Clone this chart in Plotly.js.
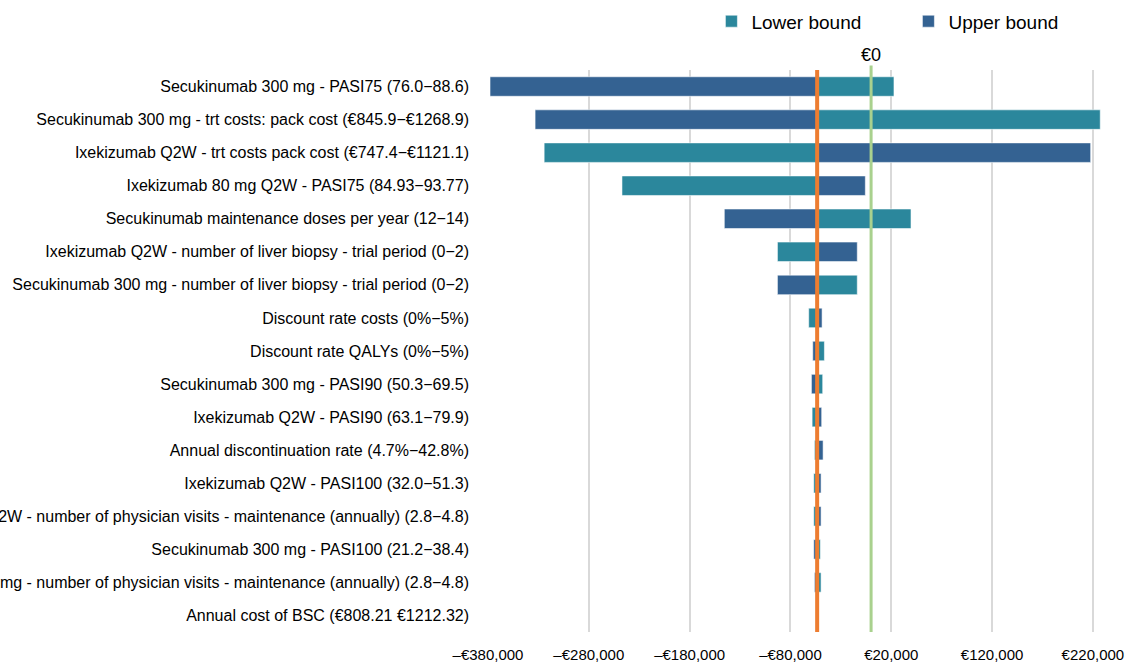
<!DOCTYPE html>
<html>
<head>
<meta charset="utf-8">
<script src="https://cdn.plot.ly/plotly-3.0.1.min.js"></script>
<style>
  html, body { margin: 0; padding: 0; background: #ffffff; }
  #chart { width: 1133px; height: 664px; }
</style>
</head>
<body>
<div id="chart"></div>
<script>
// ---- Data ----
const categories = [
  "Secukinumab 300 mg - PASI75 (76.0\u221288.6)",
  "Secukinumab 300 mg - trt costs: pack cost (\u20ac845.9\u2212\u20ac1268.9)",
  "Ixekizumab Q2W - trt costs pack cost (\u20ac747.4\u2212\u20ac1121.1)",
  "Ixekizumab 80 mg Q2W - PASI75 (84.93\u221293.77)",
  "Secukinumab maintenance doses per year (12\u221214)",
  "Ixekizumab Q2W - number of liver biopsy - trial period (0\u22122)",
  "Secukinumab 300 mg - number of liver biopsy - trial period (0\u22122)",
  "Discount rate costs (0%\u22125%)",
  "Discount rate QALYs (0%\u22125%)",
  "Secukinumab 300 mg - PASI90 (50.3\u221269.5)",
  "Ixekizumab Q2W - PASI90 (63.1\u221279.9)",
  "Annual discontinuation rate (4.7%\u221242.8%)",
  "Ixekizumab Q2W - PASI100 (32.0\u221251.3)",
  "Ixekizumab Q2W - number of physician visits - maintenance (annually) (2.8\u22124.8)",
  "Secukinumab 300 mg - PASI100 (21.2\u221238.4)",
  "Secukinumab 300 mg - number of physician visits - maintenance (annually) (2.8\u22124.8)",
  "Annual cost of BSC (\u20ac808.21 \u20ac1212.32)"
];

// Base-case result (where the bars meet, orange line)
const baseCase = -53500;

// Result at the lower bound of each parameter
const lowerBound = [
  22700, 227300, -324300, -247100, 39600, -92900, -13700,
  -61900, -46300, -48000, -58500, -56200, -56900, -56900,
  -50300, -49600, -54500
];

// Result at the upper bound of each parameter
const upperBound = [
  -378000, -333300, 217800, -5700, -145600, -13700, -92900,
  -48600, -57900, -59200, -49000, -47600, -49600, -49600,
  -56900, -56200, -52500
];

// Reference line (€0)
const zeroLine = 0;

// Axis ticks
const tickValues = [-380000, -280000, -180000, -80000, 20000, 120000, 220000];
const tickLabels = ["\u2013\u20ac380,000", "\u2013\u20ac280,000", "\u2013\u20ac180,000", "\u2013\u20ac80,000", "\u20ac20,000", "\u20ac120,000", "\u20ac220,000"];

// ---- Chart ----
const FONT = "Liberation Sans, Arial, Helvetica, sans-serif";
const tealColor = "#2b879c";
const navyColor = "#346292";

const traces = [
  {
    type: "bar",
    orientation: "h",
    name: "Lower bound",
    y: categories,
    x: lowerBound.map(v => v - baseCase),
    base: baseCase,
    width: 0.59,
    marker: { color: tealColor, line: { color: "rgba(255,255,255,0.55)", width: 1 } },
    hoverinfo: "skip"
  },
  {
    type: "bar",
    orientation: "h",
    name: "Upper bound",
    y: categories,
    x: upperBound.map(v => v - baseCase),
    base: baseCase,
    width: 0.59,
    marker: { color: navyColor, line: { color: "rgba(255,255,255,0.55)", width: 1 } },
    hoverinfo: "skip"
  }
];

const layout = {
  width: 1133,
  height: 664,
  margin: { l: 488, r: 25, t: 70, b: 32 },
  paper_bgcolor: "#ffffff",
  plot_bgcolor: "#ffffff",
  font: { family: FONT, size: 16, color: "#000000" },
  barmode: "overlay",
  showlegend: true,
  legend: {
    orientation: "h",
    xref: "container",
    yref: "container",
    x: 0.6279,
    y: 0.9965,
    xanchor: "left",
    yanchor: "top",
    font: { family: FONT, size: 19, color: "#000000" },
    traceorder: "normal",
    entrywidth: 152,
    entrywidthmode: "pixels",
    bgcolor: "rgba(0,0,0,0)"
  },
  xaxis: {
    range: [-380000, 235000],
    tickvals: tickValues,
    ticktext: tickLabels,
    showgrid: true,
    gridcolor: "#d9d9d9",
    gridwidth: 2,
    zeroline: false,
    showline: false,
    ticks: "",
    ticklabelstandoff: 12,
    tickfont: { family: FONT, size: 15, color: "#000000" },
    fixedrange: true
  },
  yaxis: {
    type: "category",
    autorange: "reversed",
    showgrid: false,
    zeroline: false,
    showline: false,
    ticks: "",
    ticklabelstandoff: 18,
    tickfont: { family: FONT, size: 16, color: "#000000" },
    fixedrange: true
  },
  shapes: [
    {
      type: "line", layer: "above",
      xref: "x", yref: "paper",
      x0: baseCase, x1: baseCase, y0: 0, y1: 1,
      line: { color: "#ed7d31", width: 4 }
    },
    {
      type: "line", layer: "above",
      xref: "x", yref: "paper",
      x0: zeroLine, x1: zeroLine, y0: 0, y1: 1.008,
      line: { color: "#a9d18e", width: 3 }
    }
  ],
  annotations: [
    {
      xref: "x", yref: "paper",
      x: zeroLine, y: 1.006,
      xanchor: "center", yanchor: "bottom",
      text: "\u20ac0",
      showarrow: false,
      font: { family: FONT, size: 18, color: "#000000" }
    }
  ]
};

Plotly.newPlot("chart", traces, layout, { staticPlot: true, displayModeBar: false });
</script>
</body>
</html>
